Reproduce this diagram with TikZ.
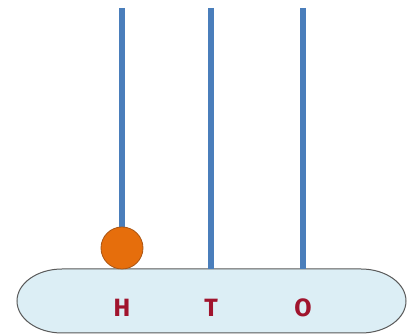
\documentclass[tikz,border=0pt]{standalone}
\usepackage{fontspec}
\setsansfont{Fira Sans}
\usetikzlibrary{positioning}
\definecolor{rodblue}{RGB}{74,126,187}
\definecolor{beadorange}{RGB}{230,110,12}
\definecolor{beadedge}{RGB}{170,85,20}
\definecolor{basefill}{RGB}{220,238,245}
\definecolor{labelred}{RGB}{160,20,45}

\begin{document}
\begin{tikzpicture}[x=1pt, y=-1pt,
  rod/.style={draw=rodblue, line width=5.5pt},
  frame/.style={draw=black!65, line width=1pt, fill=basefill},
  bead/.style={circle, draw=beadedge, line width=0.8pt, fill=beadorange,
               minimum size=42pt, inner sep=0pt},
  digit/.style={text=labelred, font=\sffamily\bfseries\fontsize{25}{25}\selectfont}
]
  \useasboundingbox (0,0) rectangle (408,336);

  % base bar with rounded ends
  \coordinate (baseTL) at (62,269);
  \coordinate (baseTR) at (361,269);
  \coordinate (baseBL) at (62,333);
  \draw[frame] (baseTL) -- (baseTR)
    arc[start angle=-90, end angle=90, x radius=45, y radius=32]
    -- (baseBL)
    arc[start angle=90, end angle=270, x radius=45, y radius=32] -- cycle;

  % rods for hundreds, tens and ones
  \coordinate (topH) at (122,8);
  \coordinate (topT) at (211,8);
  \coordinate (topO) at (303,8);
  \draw[rod] (topH) -- (topH |- baseTL);
  \draw[rod] (topT) -- (topT |- baseTL);
  \draw[rod] (topO) -- (topO |- baseTL);

  \node[digit] (labH) at (122,308) {H};
  \node[digit] (labT) at (211,308) {T};
  \node[digit] (labO) at (303,308) {O};

  \node[bead] (beadH) at (122,248) {};
\end{tikzpicture}
\end{document}
